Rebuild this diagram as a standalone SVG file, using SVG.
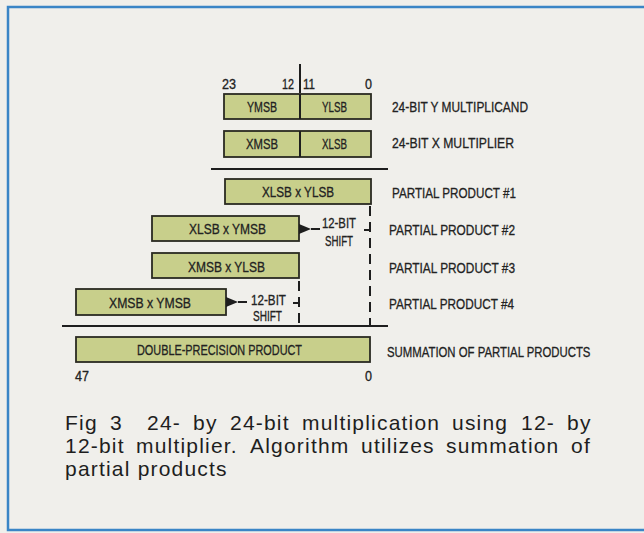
<svg xmlns="http://www.w3.org/2000/svg" width="644" height="533" viewBox="0 0 644 533">
<style>
.bg{fill:#f0efeb}
.frame{fill:none;stroke:#3a85c6;stroke-width:2.5}
.box{fill:#c8cf8b;stroke:#2a2a22;stroke-width:1.8}
.t{font-family:"Liberation Sans",Arial,sans-serif;font-size:15px;fill:#222;stroke:#222;stroke-width:0.3}
.n{font-size:14px}
.rule{stroke:#1e1e1e;stroke-width:2.2}
.dash{stroke:#1e1e1e;stroke-width:2;stroke-dasharray:10 6;fill:none}
.solid{stroke:#1e1e1e;stroke-width:2;fill:none}
.cap{font-family:"Liberation Sans",Arial,sans-serif;font-size:21px;letter-spacing:1.2px;fill:#1e1e1e}
</style>
<defs>
<marker id="ah" viewBox="0 0 12 10" refX="0" refY="5" markerWidth="12" markerHeight="10" markerUnits="userSpaceOnUse" orient="auto-start-reverse">
<path d="M0,5 L12,0 L12,10 Z" fill="#1e1e1e"/>
</marker>
</defs>
<rect class="bg" x="0" y="0" width="644" height="533"/>
<path class="frame" d="M644,7 H8 V530 H644"/>

<g id="bit-numbers">
<line class="solid" x1="300" y1="64" x2="300" y2="93" stroke-width="2.5"/>
<text class="t n" x="222" y="89" textLength="14" lengthAdjust="spacingAndGlyphs">23</text>
<text class="t n" x="282" y="89" textLength="12" lengthAdjust="spacingAndGlyphs">12</text>
<text class="t n" x="303" y="89" textLength="12" lengthAdjust="spacingAndGlyphs">11</text>
<text class="t n" x="365" y="89" textLength="7" lengthAdjust="spacingAndGlyphs">0</text>
</g>

<g id="y-multiplicand">
<rect class="box" x="224" y="94" width="147" height="25"/>
<line class="solid" x1="300" y1="94" x2="300" y2="119"/>
<text class="t" x="247" y="112" textLength="30" lengthAdjust="spacingAndGlyphs">YMSB</text>
<text class="t" x="322" y="112" textLength="25" lengthAdjust="spacingAndGlyphs">YLSB</text>
<text class="t" x="392" y="112" textLength="136" lengthAdjust="spacingAndGlyphs">24-BIT Y MULTIPLICAND</text>
</g>

<g id="x-multiplier">
<rect class="box" x="224" y="131" width="147" height="26"/>
<line class="solid" x1="300" y1="131" x2="300" y2="157"/>
<text class="t" x="246" y="149" textLength="32" lengthAdjust="spacingAndGlyphs">XMSB</text>
<text class="t" x="322" y="149" textLength="25" lengthAdjust="spacingAndGlyphs">XLSB</text>
<text class="t" x="392" y="148" textLength="122" lengthAdjust="spacingAndGlyphs">24-BIT X MULTIPLIER</text>
</g>

<g id="pp1">
<rect class="box" x="225" y="179" width="146" height="25"/>
<text class="t" x="262" y="197" textLength="72" lengthAdjust="spacingAndGlyphs">XLSB x YLSB</text>
<text class="t" x="392" y="198" textLength="124" lengthAdjust="spacingAndGlyphs">PARTIAL PRODUCT #1</text>
</g>

<g id="pp2">
<rect class="box" x="152" y="216" width="147" height="25"/>
<text class="t" x="189" y="234" textLength="77" lengthAdjust="spacingAndGlyphs">XLSB x YMSB</text>
<text class="t n" x="322" y="228" textLength="34" lengthAdjust="spacingAndGlyphs">12-BIT</text>
<text class="t n" x="325" y="246" textLength="28" lengthAdjust="spacingAndGlyphs">SHIFT</text>
<text class="t" x="389" y="235" textLength="126" lengthAdjust="spacingAndGlyphs">PARTIAL PRODUCT #2</text>
</g>

<g id="pp3">
<rect class="box" x="152" y="253" width="147" height="25"/>
<text class="t" x="188" y="272" textLength="77" lengthAdjust="spacingAndGlyphs">XMSB x YLSB</text>
<text class="t" x="389" y="273" textLength="126" lengthAdjust="spacingAndGlyphs">PARTIAL PRODUCT #3</text>
</g>

<g id="pp4">
<rect class="box" x="76" y="289" width="150" height="26"/>
<text class="t" x="109" y="308" textLength="82" lengthAdjust="spacingAndGlyphs">XMSB x YMSB</text>
<text class="t n" x="251" y="305" textLength="35" lengthAdjust="spacingAndGlyphs">12-BIT</text>
<text class="t n" x="253" y="321" textLength="29" lengthAdjust="spacingAndGlyphs">SHIFT</text>
<text class="t" x="389" y="309" textLength="125" lengthAdjust="spacingAndGlyphs">PARTIAL PRODUCT #4</text>
</g>

<g id="product">
<rect class="box" x="76" y="337" width="294" height="25"/>
<text class="t" x="137" y="355" textLength="165" lengthAdjust="spacingAndGlyphs">DOUBLE-PRECISION PRODUCT</text>
<text class="t n" x="75" y="381" textLength="14" lengthAdjust="spacingAndGlyphs">47</text>
<text class="t n" x="365" y="381" textLength="7" lengthAdjust="spacingAndGlyphs">0</text>
<text class="t" transform="translate(387,357) scale(0.758,1)" x="0" y="0">SUMMATION OF PARTIAL PRODUCTS</text>
</g>

<g id="connectors">
<line class="rule" x1="211" y1="169" x2="388" y2="169"/>
<line class="rule" x1="62" y1="326" x2="388" y2="326"/>
<line class="dash" x1="370" y1="206" x2="370" y2="325"/>
<line class="solid" x1="364" y1="230" x2="370" y2="230"/>
<line class="dash" x1="299" y1="281" x2="299" y2="325" stroke-dasharray="9 5"/>
<line class="solid" x1="293" y1="303" x2="299" y2="303"/>
<line class="solid" x1="320" y1="229" x2="311" y2="229" marker-end="url(#ah)"/>
<line class="solid" x1="247" y1="302" x2="238" y2="302" marker-end="url(#ah)"/>
</g>

<g id="caption" class="cap">
<text y="430"><tspan x="65">Fig</tspan><tspan x="110">3</tspan><tspan x="147">24-</tspan><tspan x="193">by</tspan><tspan x="230">24-bit</tspan><tspan x="302">multiplication</tspan><tspan x="452">using</tspan><tspan x="521">12-</tspan><tspan x="567">by</tspan></text>
<text y="453"><tspan x="65">12-bit</tspan><tspan x="136">multiplier.</tspan><tspan x="250">Algorithm</tspan><tspan x="361">utilizes</tspan><tspan x="446">summation</tspan><tspan x="571">of</tspan></text>
<text y="476"><tspan x="65">partial products</tspan></text>
</g>
</svg>
